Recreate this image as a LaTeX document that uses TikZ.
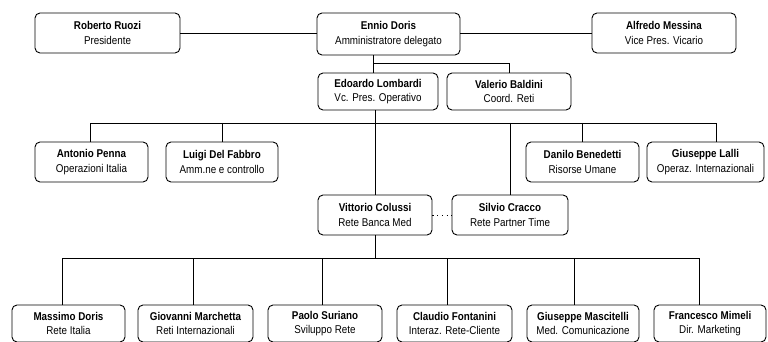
\documentclass[tikz,border=0pt]{standalone}
\usepackage{fontspec}
\setmainfont{Liberation Sans}[FakeStretch=0.87]
\begin{document}
\begin{tikzpicture}[x=1pt,y=-1pt,
  person/.style={draw=black,line width=0.9pt,rounded corners=5pt,align=center,
    inner sep=0pt,minimum height=40pt,font=\fontsize{11.3}{14.5}\selectfont},
  link/.style={draw=black,line width=0.9pt},
  side/.style={draw=black,line width=0.9pt,dash pattern=on 1.2pt off 3.5pt}]
\useasboundingbox (0,0) rectangle (768,342);
% row 1
\node[person,minimum width=145pt] (Ruozi) at (107.5,33) {\textbf{Roberto Ruozi}\\Presidente};
\node[person,minimum width=143pt,minimum height=42pt] (Doris) at (388.5,34) {\textbf{Ennio Doris}\\Amministratore delegato};
\node[person,minimum width=144pt] (Messina) at (664,33) {\textbf{Alfredo Messina}\\Vice Pres. Vicario};
% row 2
\node[person,minimum width=120pt,minimum height=37pt] (Lombardi) at (378,91.5) {\textbf{Edoardo Lombardi}\\Vc. Pres. Operativo};
\node[person,minimum width=124pt,minimum height=37pt] (Baldini) at (509,91.5) {\textbf{Valerio Baldini}\\Coord. Reti};
% row 3
\node[person,minimum width=113pt] (Penna) at (91.5,162) {\textbf{Antonio Penna}\\Operazioni Italia};
\node[person,minimum width=112pt] (DelFabbro) at (222,162) {\textbf{Luigi Del Fabbro}\\Amm.ne e controllo};
\node[person,minimum width=113pt] (Benedetti) at (582.5,162) {\textbf{Danilo Benedetti}\\Risorse Umane};
\node[person,minimum width=117pt] (Lalli) at (705.5,162) {\textbf{Giuseppe Lalli}\\Operaz. Internazionali};
% row 4
\node[person,minimum width=114pt] (Colussi) at (375,215) {\textbf{Vittorio Colussi}\\Rete Banca Med};
\node[person,minimum width=116pt] (Cracco) at (510,215) {\textbf{Silvio Cracco}\\Rete Partner Time};
% row 5
\node[person,minimum width=113pt,minimum height=37pt] (MDoris) at (68.5,323.5) {\textbf{Massimo Doris}\\Rete Italia};
\node[person,minimum width=115pt,minimum height=37pt] (Marchetta) at (195.5,323.5) {\textbf{Giovanni Marchetta}\\Reti Internazionali};
\node[person,minimum width=114pt,minimum height=37pt] (Suriano) at (325,323.5) {\textbf{Paolo Suriano}\\Sviluppo Rete};
\node[person,minimum width=115pt,minimum height=37pt] (Fontanini) at (454.5,323.5) {\textbf{Claudio Fontanini}\\Interaz. Rete-Cliente};
\node[person,minimum width=112pt,minimum height=37pt] (Mascitelli) at (583,323.5) {\textbf{Giuseppe Mascitelli}\\Med. Comunicazione};
\node[person,minimum width=112pt,minimum height=37pt] (Mimeli) at (710,323.5) {\textbf{Francesco Mimeli}\\Dir. Marketing};
% connectors row 1
\draw[link] (Ruozi.east) -- (Ruozi.east -| Doris.west);
\draw[link] (Doris.east |- Messina.west) -- (Messina.west);
% Doris to row 2
\coordinate (j1) at (373,63);
\draw[link] (j1 |- Doris.south) -- (j1 |- Lombardi.north);
\draw[link] (j1) -| (Baldini.north);
% Lombardi to row 3 and 4
\coordinate (b3l) at (90,123);
\coordinate (b3r) at (716,123);
\draw[link] (Colussi.north |- Lombardi.south) -- (Colussi.north);
\draw[link] (b3l |- Penna.north) -- (b3l) -- (b3r) -- (b3r |- Lalli.north);
\draw[link] (DelFabbro.north |- b3l) -- (DelFabbro.north);
\draw[link] (Benedetti.north |- b3l) -- (Benedetti.north);
\draw[link] (Cracco.north |- b3l) -- (Cracco.north);
\draw[side] (Colussi.east) -- (Cracco.west);
% Colussi to row 5
\coordinate (b5l) at (62,258);
\coordinate (b5r) at (699,258);
\coordinate (d2) at (193,258);
\coordinate (d3) at (322,258);
\coordinate (d4) at (447,258);
\coordinate (d5) at (574,258);
\draw[link] (Colussi.south) -- (Colussi.south |- b5l);
\draw[link] (b5l |- MDoris.north) -- (b5l) -- (b5r) -- (b5r |- Mimeli.north);
\draw[link] (d2) -- (d2 |- Marchetta.north);
\draw[link] (d3) -- (d3 |- Suriano.north);
\draw[link] (d4) -- (d4 |- Fontanini.north);
\draw[link] (d5) -- (d5 |- Mascitelli.north);
\end{tikzpicture}
\end{document}
